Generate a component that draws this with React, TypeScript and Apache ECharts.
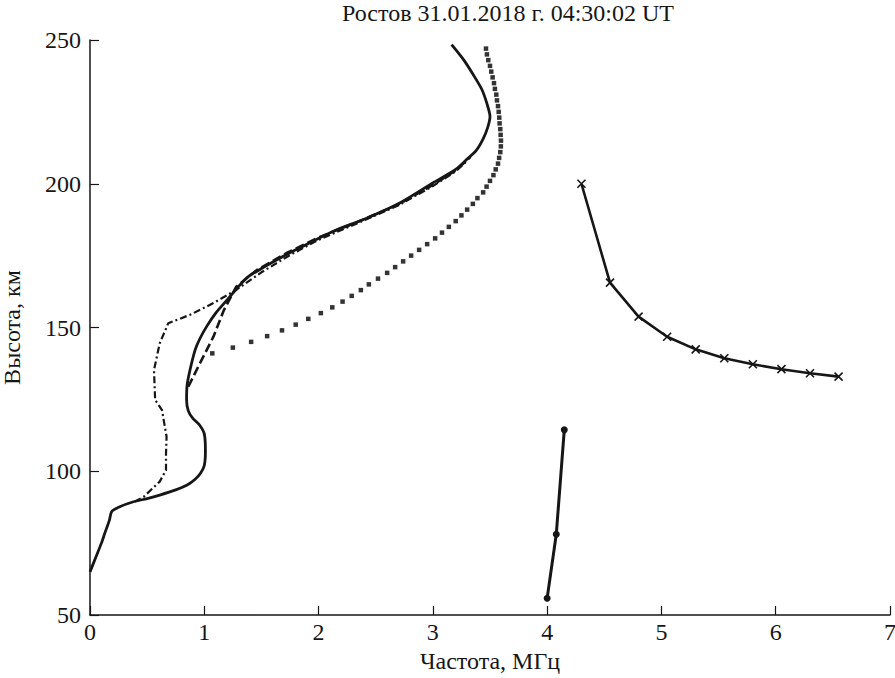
import React, { useEffect, useRef } from "react";
import * as echarts from "echarts";

// Solid profile (freq MHz, height km)
const solidFreq = [0, 0.05, 0.1, 0.13, 0.17, 0.19, 0.25, 0.38, 0.5, 0.61, 0.75, 0.85, 0.92, 0.97, 1.0, 1.01, 1.0, 0.96, 0.9, 0.86, 0.845, 0.85, 0.875, 0.92, 0.96, 1.02, 1.1, 1.2, 1.37, 1.5, 1.66, 1.84, 2.13, 2.42, 2.71, 3.0, 3.2, 3.3, 3.38, 3.44, 3.48, 3.5, 3.476, 3.43, 3.354, 3.27, 3.164];
const solidHeight = [65, 70, 75, 78.5, 83, 86, 87.5, 89.4, 90.5, 91.7, 93.5, 95.2, 97.2, 99.5, 102, 107, 113, 116, 118.4, 121, 125, 130, 135.2, 142.2, 146, 150.3, 155, 159.6, 167.2, 170.5, 174.1, 177.8, 183.5, 188, 193.3, 200.3, 205, 208.6, 211.6, 215.6, 219.6, 223.4, 227.5, 232.7, 237.9, 243.1, 248.4];

// Dashed profile
const dashedFreq = [0.86, 0.96, 1.08, 1.17, 1.28, 1.46, 1.72, 2.0, 2.4, 2.7, 3.0, 3.2, 3.33];
const dashedHeight = [129.4, 137.4, 146.8, 155.9, 164.2, 170, 175.9, 181.3, 187.7, 192.8, 199.6, 204.6, 209.4];

// Dash-dot profile
const dashDotFreq = [0.39, 0.47, 0.61, 0.665, 0.665, 0.67, 0.63, 0.57, 0.56, 0.61, 0.685, 0.875, 1.08, 1.28, 1.5, 1.75, 2.0, 2.4, 2.7, 3.0, 3.2, 3.3];
const dashDotHeight = [89.4, 91.1, 96.4, 100.4, 106, 112, 121.3, 124.8, 135.2, 144.5, 151.5, 154.4, 158.5, 163.1, 169.2, 175.2, 180.5, 187.3, 192.5, 199.2, 204.3, 208];

// Dotted (model) profile, 2 km steps
const dottedFreq = [1.07, 1.25, 1.41, 1.55, 1.68, 1.8, 1.91, 2.02, 2.12, 2.21, 2.29, 2.37, 2.44, 2.52, 2.6, 2.67, 2.74, 2.81, 2.88, 2.95, 3.02, 3.08, 3.14, 3.2, 3.25, 3.3, 3.35, 3.39, 3.44, 3.47, 3.5, 3.53, 3.55, 3.57, 3.58, 3.59, 3.595, 3.596, 3.593, 3.59, 3.584, 3.581, 3.576, 3.57, 3.561, 3.555, 3.543, 3.535, 3.523, 3.511, 3.5, 3.485, 3.473, 3.465];
const dottedHeight = [141, 143, 145, 147, 149, 151, 153, 155, 157, 159, 161, 163, 165, 167, 169, 171, 173, 175, 177, 179, 181, 183, 185, 187, 189, 191, 193, 195, 197, 199, 201, 203, 205, 207, 209, 211, 213, 215, 217, 219, 221, 223, 225, 227, 229, 231, 233, 235, 237, 239, 241, 243, 245, 247];

// Cross-marked trace
const crossFreq = [4.3, 4.55, 4.8, 5.05, 5.3, 5.55, 5.8, 6.05, 6.3, 6.55];
const crossHeight = [200, 165.6, 153.8, 146.8, 142.4, 139.3, 137.2, 135.5, 134.1, 132.9];

// Dot-marked trace
const dotFreq = [4.0, 4.08, 4.15];
const dotHeight = [55.8, 78.1, 114.4];

const xTicks = [0, 1, 2, 3, 4, 5, 6, 7];
const yTicks = [50, 100, 150, 200, 250];

const titleText = "Ростов 31.01.2018 г. 04:30:02 UT";
const xName = "Частота, МГц";
const yName = "Высота, км";

const zip = (a: number[], b: number[]) => a.map((v, i) => [v, b[i]]);

const FONT = "Liberation Serif";
const INK = "#161616";

export default function App() {
  const ref = useRef<HTMLDivElement>(null);
  useEffect(() => {
    if (!ref.current) return;
    const chart = echarts.init(ref.current, undefined, { renderer: "svg" });
    chart.setOption({
      animation: false,
      backgroundColor: "#ffffff",
      grid: { left: 90, right: 5, top: 40, bottom: 63, containLabel: false, outerBoundsMode: "none" },
      graphic: [
        {
          type: "text",
          x: 508,
          y: 13,
          style: {
            text: titleText,
            fontFamily: FONT,
            fontSize: 24,
            fill: INK,
            align: "center",
            verticalAlign: "middle",
          },
        },
      ],
      xAxis: {
        type: "value",
        min: xTicks[0],
        max: xTicks[xTicks.length - 1],
        interval: 1,
        name: xName,
        nameLocation: "middle",
        nameGap: 34,
        nameTextStyle: { fontFamily: FONT, fontSize: 24, color: INK },
        axisLine: { show: true, lineStyle: { color: INK, width: 1.5 } },
        axisTick: { show: true, inside: true, length: 9, lineStyle: { color: INK, width: 1.2 } },
        axisLabel: { fontFamily: FONT, fontSize: 24, color: INK, margin: 5 },
        splitLine: { show: false },
      },
      yAxis: {
        type: "value",
        min: yTicks[0],
        max: yTicks[yTicks.length - 1],
        interval: 50,
        name: yName,
        nameLocation: "middle",
        nameGap: 66,
        nameTextStyle: { fontFamily: FONT, fontSize: 24, color: INK },
        axisLine: { show: true, lineStyle: { color: INK, width: 1.5 } },
        axisTick: { show: true, inside: true, length: 9, lineStyle: { color: INK, width: 1.2 } },
        axisLabel: { fontFamily: FONT, fontSize: 24, color: INK, margin: 9 },
        splitLine: { show: false },
      },
      series: [
        {
          type: "scatter",
          data: zip(dottedFreq, dottedHeight),
          symbol: "rect",
          symbolSize: 4.5,
          itemStyle: { color: "#000" },
        },
        {
          type: "line",
          data: zip(dashDotFreq, dashDotHeight),
          showSymbol: false,
          lineStyle: { color: INK, width: 2.2, type: [7, 3, 2, 3] },
        },
        {
          type: "line",
          data: zip(dashedFreq, dashedHeight),
          showSymbol: false,
          lineStyle: { color: INK, width: 2.6, type: [9, 4] },
        },
        {
          type: "line",
          data: zip(solidFreq, solidHeight),
          showSymbol: false,
          smooth: 0.25,
          lineStyle: { color: INK, width: 2.8 },
        },
        {
          type: "line",
          data: zip(crossFreq, crossHeight),
          symbol: "path://M0,0L10,10M10,0L0,10",
          symbolSize: 8,
          itemStyle: { color: INK, borderColor: INK, borderWidth: 1.6 },
          lineStyle: { color: INK, width: 2.6 },
        },
        {
          type: "line",
          data: zip(dotFreq, dotHeight),
          symbol: "circle",
          symbolSize: 7,
          itemStyle: { color: INK },
          lineStyle: { color: INK, width: 3 },
        },
      ],
    });
    return () => chart.dispose();
  }, []);
  return (
    <div
      ref={ref}
      style={{ position: "fixed", left: 0, top: 0, width: 895, height: 678, background: "#fff" }}
    />
  );
}
